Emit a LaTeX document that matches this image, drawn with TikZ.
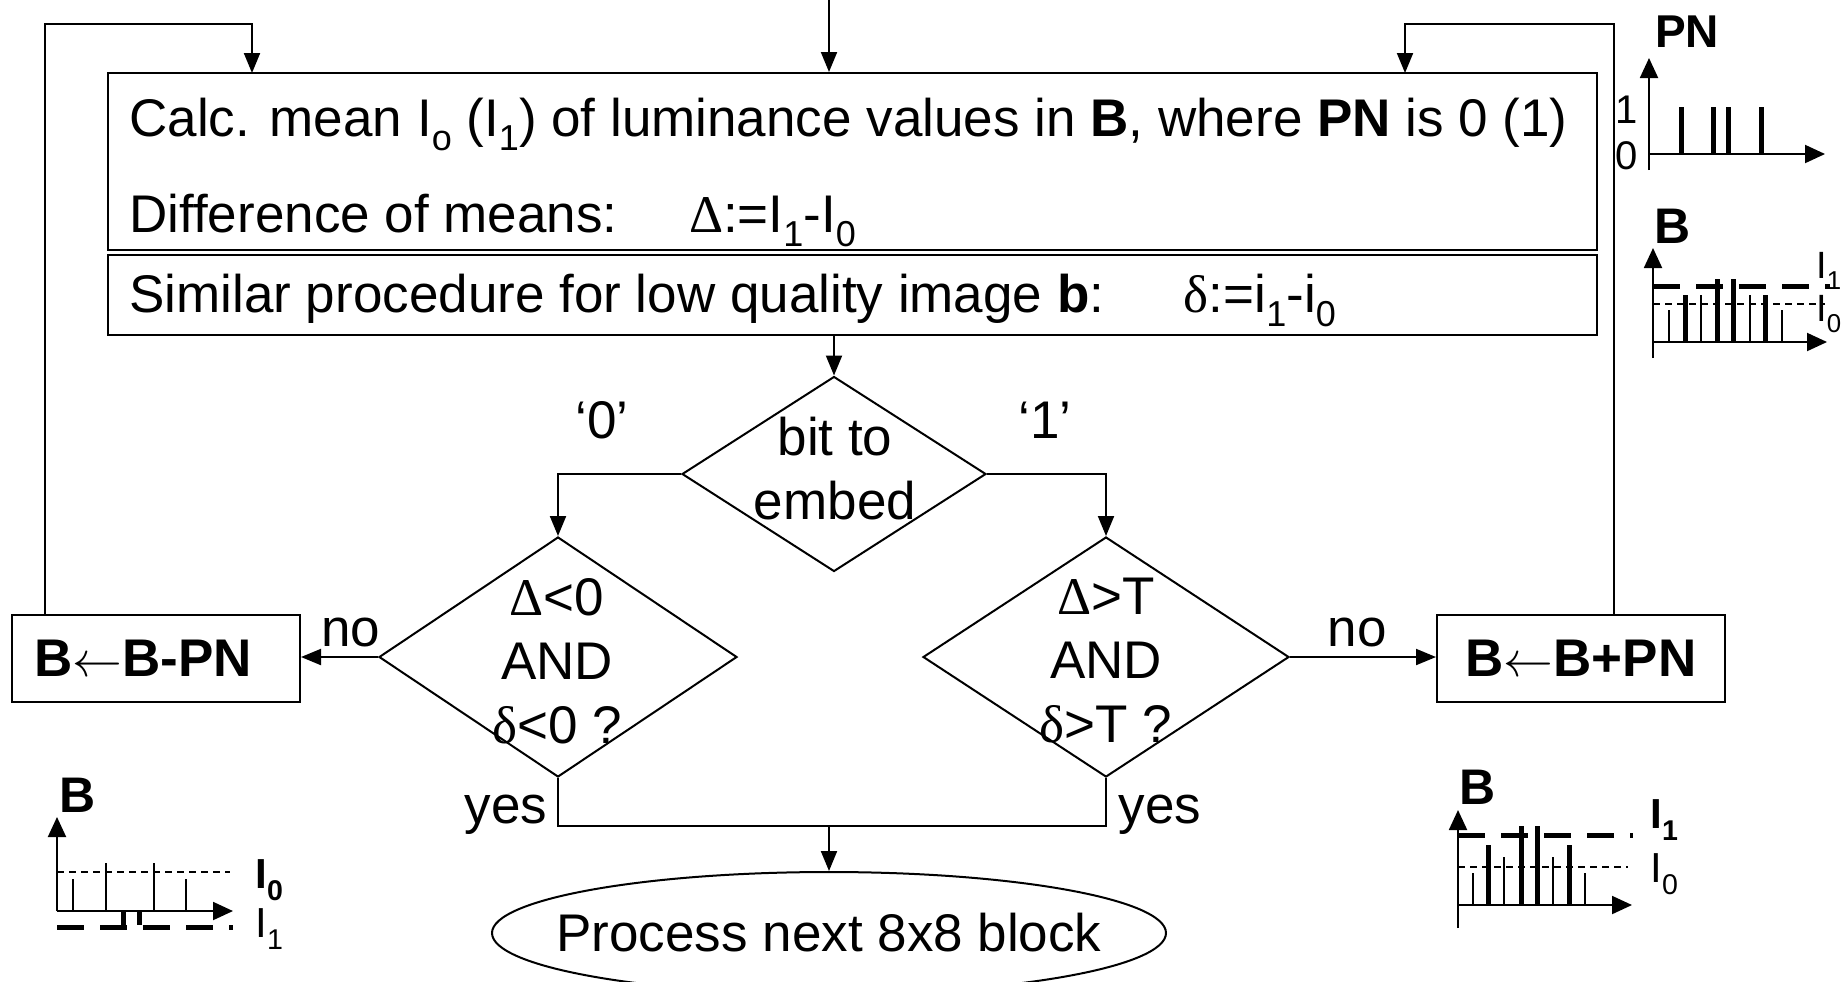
\documentclass[tikz,border=0pt]{standalone}
\usepackage{amsmath}
\usepackage{graphicx}
\usepackage{fontspec}
\setmainfont{Liberation Sans}
\newfontfamily\greekfont{Liberation Serif}
\newcommand{\lowsub}[1]{\raisebox{-0.28em}{\scalebox{0.68}{#1}}}
\newcommand{\gD}{{\greekfont Δ}}
\newcommand{\gd}{{\greekfont δ}}
\usetikzlibrary{arrows.meta,shapes.geometric}

\tikzset{
  box/.style={draw, line width=1pt, inner sep=0pt},
  decision/.style={draw, diamond, line width=1pt, inner sep=0pt},
  terminal/.style={draw, ellipse, line width=1pt, inner sep=0pt},
  txt/.style={inner sep=0pt, font=\fontsize{26.5}{32}\selectfont},
  flow/.style={line width=1pt, -{Triangle[length=10pt,width=8pt]}},
  wire/.style={line width=1pt},
  plotaxis/.style={line width=1pt, -{Triangle[length=10pt,width=9pt]}},
  thinbar/.style={line width=1pt},
  thickbar/.style={line width=2.5pt},
  meanlow/.style={line width=1pt, dash pattern=on 3.5pt off 2.5pt},
  meanhigh/.style={line width=2.5pt, dash pattern=on 13.5pt off 8pt},
  plotlbl/.style={inner sep=0pt, font=\fontsize{25}{28}\selectfont\bfseries},
  ticklbl/.style={inner sep=0pt, font=\fontsize{20}{23}\selectfont},
  meanlbl/.style={inner sep=0pt, anchor=west, font=\fontsize{19}{22}\selectfont},
}

\begin{document}
\begin{tikzpicture}[x=0.5pt,y=0.5pt,yscale=-1]
\useasboundingbox (0,0) rectangle (1845,981);

% Blocks
\node[box, minimum width=744.5pt, minimum height=88.5pt] (calc) at (852.5,161.5) {};
\node[box, minimum width=744.5pt, minimum height=40pt] (sim) at (852.5,295) {};
\node[decision, minimum width=152pt, minimum height=97.5pt] (bit) at (834,474) {};
\node[decision, minimum width=179pt, minimum height=120pt] (dl) at (558,657) {};
\node[decision, minimum width=183pt, minimum height=120pt] (dr) at (1106,657) {};
\node[box, minimum width=144pt, minimum height=43.5pt] (bminus) at (156,658.5) {\fontsize{26.5}{32}\selectfont\bfseries B$\leftarrow$B-PN\hspace*{13pt}};
\node[box, minimum width=144pt, minimum height=43.5pt] (bplus) at (1581,658.5) {\fontsize{26.5}{32}\selectfont\bfseries B$\leftarrow$B+PN};
\node[terminal, minimum width=337pt, minimum height=61pt] (proc) at (829,933) {};

% Text Nodes
\node[txt, anchor=base west] (calcA) at (129,136) {Calc. mean I\lowsub{o} (I\lowsub{1}) of luminance values in \textbf{B}, where \textbf{PN} is 0 (1)};
\node[txt, anchor=base west] (calcB) at (129,232) {Difference of means:\hspace{1.35em}\gD:=I\lowsub{1}-I\lowsub{0}};
\node[txt, anchor=base west] (simA) at (129,312) {Similar procedure for low quality image \textbf{b}:\hspace{1.5em}\gd:=i\lowsub{1}-i\lowsub{0}};
\node[txt, align=center] (bitA) at (835,469) {bit to\\embed};
\node[txt, align=center] (dlA) at (557,661) {\gD<0\\AND\\\gd<0 ?};
\node[txt, align=center] (drA) at (1106,661) {\gD>T\\AND\\\gd>T ?};
\node[txt] (procA) at (829,933) {Process next 8x8 block};
\node[txt] (zero) at (602,420) {‘0’};
\node[txt] (one) at (1045,420) {‘1’};
\node[txt] (noL) at (351,632) {no};
\node[txt] (noR) at (1357,632) {no};
\node[txt] (yesL) at (506,815) {yes};
\node[txt] (yesR) at (1160,815) {yes};

% Connectors
\coordinate (start) at (829,0);
\coordinate (upL) at (45,24);
\coordinate (inL) at (252,73);
\coordinate (upR) at (1614,24);
\coordinate (inR) at (1405,73);
\coordinate (join) at (829,826);
\draw[flow] (start) -- (start |- calc.north);
\draw[flow] (bminus.north -| upL) -- (upL) -| (inL);
\draw[flow] (bplus.north -| upR) -- (upR) -| (inR);
\draw[flow] (sim.south -| bit.north) -- (bit.north);
\draw[flow] (bit.west) -| (dl.north);
\draw[flow] (bit.east) -| (dr.north);
\draw[flow] (dl.west) -- (dl.west -| bminus.east);
\draw[flow] (dr.east) -- (dr.east -| bplus.west);
\draw[wire] (dl.south) |- (join) -| (dr.south);
\draw[flow] (join) -- (proc.north);

% PN plot
\draw[plotaxis] (1649,170) -- (1649,58);
\draw[plotaxis] (1649,154) -- (1825,154);
\draw[thickbar] (1681,154) -- (1681,107) (1713,154) -- (1713,107) (1728,154) -- (1728,107) (1761,154) -- (1761,107);
\node[plotlbl, font=\fontsize{23}{26}\selectfont\bfseries] (pnT) at (1687,32) {PN};
\node[ticklbl] (pn1) at (1627,110) {1};
\node[ticklbl] (pn0) at (1627,156) {0};

% B plot, top right
\draw[plotaxis] (1653,358) -- (1653,248);
\draw[plotaxis] (1653,342) -- (1827,342);
\draw[meanlow] (1653,304) -- (1825,304);
\draw[thinbar] (1669,342) -- (1669,310) (1701,342) -- (1701,295) (1750,342) -- (1750,295) (1782,342) -- (1782,310);
\draw[thickbar] (1685,342) -- (1685,295) (1717,342) -- (1717,279) (1733,342) -- (1733,279) (1765,342) -- (1765,295);
\draw[meanhigh] (1653,286) -- (1830,286);
\node[plotlbl] (bT) at (1673,226) {B};
\node[meanlbl] (bTi1) at (1816,271) {I\lowsub{1}};
\node[meanlbl] (bTi0) at (1816,314) {I\lowsub{0}};

% B plot, bottom left
\draw[plotaxis] (57,911) -- (57,817);
\draw[plotaxis] (57,911) -- (233,911);
\draw[meanlow] (57,872) -- (230,872);
\draw[thinbar] (73,911) -- (73,879) (106,911) -- (106,863) (154,911) -- (154,863) (186,911) -- (186,879);
\draw[thickbar] (123,911) -- (123,927) (139,911) -- (139,925);
\draw[meanhigh] (57,927) -- (233,927);
\node[plotlbl] (bL) at (78,795) {B};
\node[meanlbl, font=\fontsize{21}{24}\selectfont\bfseries] (bLi0) at (255,880) {I\lowsub{0}};
\node[meanlbl, font=\fontsize{21}{24}\selectfont] (bLi1) at (255,929) {I\lowsub{1}};

% B plot, bottom right
\draw[plotaxis] (1458,928) -- (1458,810);
\draw[plotaxis] (1458,905) -- (1632,905);
\draw[meanlow] (1458,867) -- (1628,867);
\draw[thinbar] (1473,905) -- (1473,873) (1504,905) -- (1504,857) (1553,905) -- (1553,857) (1585,905) -- (1585,873);
\draw[thickbar] (1488,905) -- (1488,845) (1521,905) -- (1521,826) (1537,905) -- (1537,826) (1569,905) -- (1569,845);
\draw[meanhigh] (1458,835) -- (1633,835);
\node[plotlbl] (bR) at (1478,787) {B};
\node[meanlbl, font=\fontsize{21}{24}\selectfont\bfseries] (bRi1) at (1650,820) {I\lowsub{1}};
\node[meanlbl, font=\fontsize{21}{24}\selectfont] (bRi0) at (1650,874) {I\lowsub{0}};
\end{tikzpicture}
\end{document}
